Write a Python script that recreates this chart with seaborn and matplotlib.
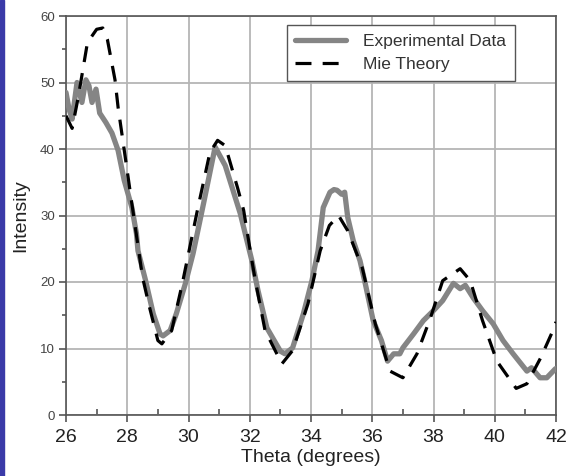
import numpy as np
import pandas as pd
import matplotlib
matplotlib.use("Agg")
import matplotlib.pyplot as plt
import seaborn as sns
from matplotlib.patches import Rectangle

# Experimental data (theta, intensity)
exp_theta = [26.0, 26.1, 26.2, 26.36, 26.52, 26.65, 26.75, 26.85, 26.98, 27.1, 27.3, 27.5, 27.7, 27.9,
             28.15, 28.3, 28.35, 28.6, 28.85, 29.07, 29.17, 29.4, 29.6, 29.9, 30.15, 30.5, 30.87,
             31.2, 31.69, 32.07, 32.27, 32.56, 33.0, 33.15, 33.4, 33.75, 34.03, 34.23, 34.4,
             34.62, 34.75, 34.85, 35.0, 35.1, 35.2, 35.38, 35.6, 35.77, 36.03, 36.3, 36.5, 36.7,
             36.9, 37.0, 37.35, 37.67, 38.0, 38.3, 38.65, 38.87, 39.04, 39.3, 39.6, 39.95, 40.27,
             40.6, 41.05, 41.2, 41.48, 41.7, 41.97, 42.0]
exp_int = [48.5, 46.0, 44.5, 50.0, 47.0, 50.4, 49.5, 47.0, 49.0, 45.4, 44.0, 42.4, 39.8, 35.3,
           31.2, 27.3, 24.7, 20.2, 15.2, 12.2, 11.9, 12.7, 15.2, 19.8, 24.3, 32.0, 40.3,
           37.5, 30.3, 23.2, 18.7, 13.1, 9.6, 9.2, 10.1, 15.2, 20.2, 24.7, 31.2,
           33.5, 33.9, 33.8, 33.2, 33.5, 29.7, 26.2, 23.2, 19.8, 14.2, 11.2, 8.1, 9.2,
           9.2, 10.1, 12.2, 14.2, 15.7, 17.2, 19.8, 19.0, 19.5, 17.6, 15.7, 13.7, 11.2,
           9.2, 6.6, 7.1, 5.6, 5.6, 6.9, 7.0]

# Mie theory
mie_theta = [26.0, 26.2, 26.4, 26.7, 27.0, 27.2, 27.35, 27.6, 27.7, 28.03, 28.15, 28.5, 28.7, 29.0,
             29.13, 29.45, 29.8, 30.3, 30.7, 30.95, 31.2, 31.6, 31.8, 32.07, 32.2, 32.5, 33.05,
             33.4, 33.9, 34.3, 34.6, 34.9, 35.2, 35.67, 36.1, 36.58, 37.0, 37.46, 37.9, 38.3,
             38.87, 39.2, 39.6, 40.07, 40.7, 41.05, 41.5, 41.9, 42.0]
mie_int = [45.0, 43.1, 47.8, 56.0, 58.0, 58.2, 56.5, 50.4, 46.3, 35.7, 31.8, 20.7, 16.7, 11.2,
           10.7, 12.7, 19.8, 31.0, 39.5, 41.3, 40.5, 34.2, 30.8, 23.2, 19.8, 12.7, 7.7,
           9.7, 16.7, 24.7, 28.5, 30.0, 27.7, 22.2, 13.7, 6.6, 5.6, 9.2, 14.6, 20.2,
           22.0, 20.2, 14.2, 8.1, 4.0, 4.7, 8.6, 12.7, 14.0]

x_ticks = [26, 28, 30, 32, 34, 36, 38, 40, 42]
y_ticks = [0, 10, 20, 30, 40, 50, 60]

sns.set_theme(style="white")
plt.rcParams['font.family'] = ['Liberation Sans', 'DejaVu Sans']

fig = plt.figure(figsize=(5.68, 4.76), dpi=100)
ax = fig.add_axes([66/568, 61/476, 490/568, 399/476])

df_exp = pd.DataFrame({"theta": exp_theta, "intensity": exp_int})
df_mie = pd.DataFrame({"theta": mie_theta, "intensity": mie_int})

sns.lineplot(data=df_exp, x="theta", y="intensity", ax=ax, color="#858585", lw=3.8,
             sort=False, label="Experimental Data", zorder=3)
sns.lineplot(data=df_mie, x="theta", y="intensity", ax=ax, color="black", lw=2.3,
             sort=False, label="Mie Theory", zorder=4)
ax.lines[1].set_dashes([5, 3.5])

ax.set_xlim(26, 42)
ax.set_ylim(0, 60)
ax.set_xticks(x_ticks)
ax.set_yticks(y_ticks)
ax.set_xticks(np.arange(27, 42, 2), minor=True)
ax.set_yticks(np.arange(5, 60, 10), minor=True)
ax.grid(True, which="major", color="#b5b5b5", lw=1.3)
ax.set_axisbelow(True)
for s in ax.spines.values():
    s.set_color("#555555")
    s.set_linewidth(1.2)
ax.tick_params(axis="x", which="major", direction="out", length=5, width=1.2, color="#555555",
               labelsize=14, labelcolor="#222222", pad=5, bottom=True)
ax.tick_params(axis="x", which="minor", direction="in", length=4, width=1.2, color="#555555", bottom=True)
ax.tick_params(axis="y", which="major", direction="out", length=5, width=1.2, color="#555555",
               labelsize=9.5, labelcolor="#444444", pad=3, left=True)
ax.tick_params(axis="y", which="minor", direction="out", length=3, width=1.2, color="#555555", left=True)

ax.set_xlabel("Theta (degrees)", fontsize=14, color="#222222", labelpad=2)
ax.set_ylabel("Intensity", fontsize=14, color="#222222", labelpad=8)

leg = ax.legend(loc="upper right", bbox_to_anchor=(0.916, 0.977), fontsize=12.5, frameon=True,
                fancybox=False, edgecolor="#555555", framealpha=1, handlelength=2.9,
                borderpad=0.5, labelspacing=0.45, handletextpad=1.0, borderaxespad=0)
leg.get_frame().set_linewidth(1.0)
for t in leg.get_texts():
    t.set_color("#333333")

fig.patches.append(Rectangle((0, 0), 4/568, 1, transform=fig.transFigure, color="#3a3aa8", zorder=10))

fig.savefig("out.png", dpi=100)
